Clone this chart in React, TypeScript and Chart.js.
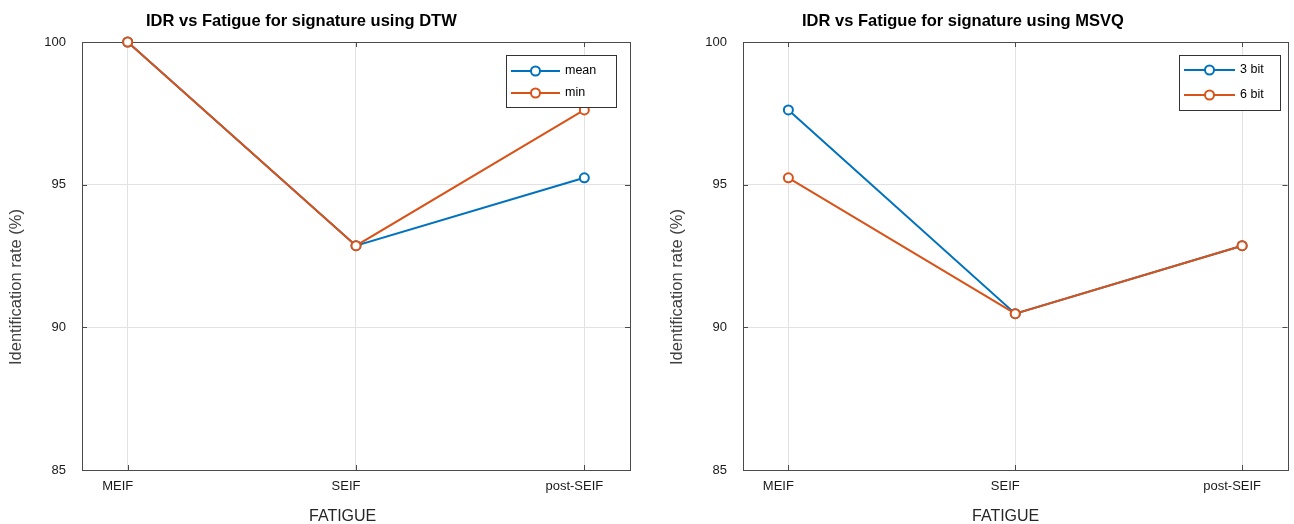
import React, { useEffect, useRef } from "react";
import { Chart, registerables } from "chart.js";

Chart.register(...registerables);

// ---------- data ----------
const categories = ["MEIF", "SEIF", "post-SEIF"];
const dtwMean = [100, 92.86, 95.24];
const dtwMin = [100, 92.86, 97.62];
const msvq3bit = [97.62, 90.48, 92.86];
const msvq6bit = [95.24, 90.48, 92.86];
const yTickValues = [85, 90, 95, 100];
const yMin = 85;
const yMax = 100;
const leftTitle = "IDR vs Fatigue for signature using DTW";
const rightTitle = "IDR vs Fatigue for signature using MSVQ";
const xAxisLabel = "FATIGUE";
const yAxisLabel = "Identification rate (%)";
const leftSeriesNames = ["mean", "min"];
const rightSeriesNames = ["3 bit", "6 bit"];

const BLUE = "#0072BD";
const ORANGE = "#D95319";
const FONT = '"Liberation Sans", Arial, Helvetica, sans-serif';
const W = 647;
const H = 524;

type Layout = {
  canvasLeft: number;
  axisWidth: number;
  padRight: number;
  titleX: number;
  xLabelX: number;
  yLabelX: number;
  legend: { l: number; t: number; r: number; b: number; rows: number[]; lx0: number; lx1: number; tx: number };
};

const decorPlugin = (title: string, lay: Layout) => ({
  id: "matlabDecor",
  beforeDatasetsDraw(chart: any) {
    const { ctx, chartArea } = chart;
    const { left, top, right, bottom } = chartArea;
    const xs = chart.scales.x;
    const ys = chart.scales.y;
    ctx.save();
    ctx.strokeStyle = "#4a4a4a";
    ctx.lineWidth = 1;
    ctx.strokeRect(Math.round(left) + 0.5, Math.round(top) + 0.5, Math.round(right - left), Math.round(bottom - top));
    ctx.beginPath();
    categories.forEach((_, i) => {
      const px = Math.round(xs.getPixelForValue(i)) + 0.5;
      ctx.moveTo(px, top);
      ctx.lineTo(px, top + 5);
      ctx.moveTo(px, bottom);
      ctx.lineTo(px, bottom - 5);
    });
    yTickValues.forEach((v) => {
      const py = Math.round(ys.getPixelForValue(v)) + 0.5;
      ctx.moveTo(left, py);
      ctx.lineTo(left + 5, py);
      ctx.moveTo(right, py);
      ctx.lineTo(right - 5, py);
    });
    ctx.stroke();
    ctx.restore();
  },
  afterDraw(chart: any) {
    const { ctx } = chart;
    ctx.save();
    // title
    ctx.fillStyle = "#000";
    ctx.font = `bold 16.5px ${FONT}`;
    ctx.textAlign = "left";
    ctx.textBaseline = "alphabetic";
    ctx.fillText(title, lay.titleX, 26);
    // x label
    ctx.fillStyle = "#262626";
    ctx.font = `16px ${FONT}`;
    ctx.fillText(xAxisLabel, lay.xLabelX, 521);
    // y label
    ctx.save();
    ctx.translate(lay.yLabelX, 365);
    ctx.rotate(-Math.PI / 2);
    ctx.font = `16.5px ${FONT}`;
    ctx.textBaseline = "middle";
    ctx.fillStyle = "#404040";
    ctx.fillText(yAxisLabel, 0, 0);
    ctx.restore();
    // legend
    const lg = lay.legend;
    ctx.fillStyle = "#fff";
    ctx.fillRect(lg.l, lg.t, lg.r - lg.l, lg.b - lg.t);
    ctx.strokeStyle = "#333";
    ctx.lineWidth = 1;
    ctx.strokeRect(lg.l + 0.5, lg.t + 0.5, lg.r - lg.l, lg.b - lg.t);
    chart.data.datasets.forEach((ds: any, i: number) => {
      const y = lg.rows[i];
      ctx.strokeStyle = ds.borderColor;
      ctx.lineWidth = 2;
      ctx.beginPath();
      ctx.moveTo(lg.lx0, y);
      ctx.lineTo(lg.lx1, y);
      ctx.stroke();
      ctx.beginPath();
      ctx.arc((lg.lx0 + lg.lx1) / 2, y, 4.5, 0, Math.PI * 2);
      ctx.fillStyle = "#fff";
      ctx.fill();
      ctx.stroke();
      ctx.fillStyle = "#000";
      ctx.font = `12.5px ${FONT}`;
      ctx.textBaseline = "middle";
      ctx.textAlign = "left";
      ctx.fillText(ds.label, lg.tx, y);
    });
    ctx.restore();
  },
});

function makeConfig(title: string, names: string[], series: number[][], lay: Layout): any {
  const colors = [BLUE, ORANGE];
  return {
    type: "line",
    data: {
      datasets: series.map((vals, si) => ({
        label: names[si],
        data: vals.map((v, i) => ({ x: i, y: v })),
        borderColor: colors[si],
        backgroundColor: colors[si],
        borderWidth: 2,
        pointRadius: 4.5,
        pointBorderWidth: 2,
        pointBackgroundColor: "#fff",
        pointBorderColor: colors[si],
        tension: 0,
        clip: false,
        order: si === 0 ? 1 : 0,
      })),
    },
    options: {
      responsive: false,
      animation: false,
      devicePixelRatio: 1,
      layout: { padding: { left: 0, right: lay.padRight, top: 42, bottom: 0 } },
      plugins: { legend: { display: false }, title: { display: false }, tooltip: { enabled: false } },
      scales: {
        x: {
          type: "linear",
          min: -0.2,
          max: 2.2,
          afterBuildTicks: (s: any) => {
            s.ticks = categories.map((_, i) => ({ value: i }));
          },
          afterFit: (s: any) => {
            s.height = 54;
            s.paddingLeft = 0;
            s.paddingRight = 0;
          },
          grid: { color: "#e2e2e2", lineWidth: 1, drawTicks: false },
          border: { display: false },
          ticks: {
            autoSkip: false,
            maxRotation: 0,
            padding: 9,
            labelOffset: -10,
            color: "#1a1a1a",
            font: { family: FONT, size: 13 },
            callback: (v: any) => categories[Math.round(v)] ?? "",
          },
        },
        y: {
          type: "linear",
          min: yMin,
          max: yMax,
          afterBuildTicks: (s: any) => {
            s.ticks = yTickValues.map((v) => ({ value: v }));
          },
          afterFit: (s: any) => {
            s.width = lay.axisWidth;
            s.paddingTop = 0;
            s.paddingBottom = 0;
          },
          grid: { color: "#e2e2e2", lineWidth: 1, drawTicks: false },
          border: { display: false },
          ticks: {
            padding: 16,
            color: "#1a1a1a",
            font: { family: FONT, size: 13 },
            callback: (v: any) => String(v),
          },
        },
      },
    },
    plugins: [decorPlugin(title, lay)],
  };
}

function Panel({ title, names, series, lay }: { title: string; names: string[]; series: number[][]; lay: Layout }) {
  const ref = useRef<HTMLCanvasElement>(null);
  useEffect(() => {
    if (!ref.current) return;
    const chart = new Chart(ref.current, makeConfig(title, names, series, lay));
    return () => chart.destroy();
  }, []);
  return (
    <canvas
      ref={ref}
      width={W}
      height={H}
      style={{ position: "absolute", left: lay.canvasLeft, top: 0, width: W, height: H }}
    />
  );
}

const leftLayout: Layout = {
  canvasLeft: 0,
  axisWidth: 82,
  padRight: 17,
  titleX: 146,
  xLabelX: 309,
  yLabelX: 16,
  legend: { l: 506, t: 55, r: 616, b: 107, rows: [71, 93], lx0: 511, lx1: 560, tx: 565 },
};

const rightLayout: Layout = {
  canvasLeft: 647,
  axisWidth: 96,
  padRight: 3,
  titleX: 802 - 647,
  xLabelX: 972 - 647,
  yLabelX: 677 - 647,
  legend: { l: 1179 - 647, t: 55, r: 1280 - 647, b: 110, rows: [70, 95], lx0: 1184 - 647, lx1: 1235 - 647, tx: 1240 - 647 },
};

export default function App() {
  return (
    <div style={{ position: "fixed", left: 0, top: 0, width: 1294, height: 524, background: "#fff", overflow: "hidden" }}>
      <Panel title={leftTitle} names={leftSeriesNames} series={[dtwMean, dtwMin]} lay={leftLayout} />
      <Panel title={rightTitle} names={rightSeriesNames} series={[msvq3bit, msvq6bit]} lay={rightLayout} />
    </div>
  );
}
